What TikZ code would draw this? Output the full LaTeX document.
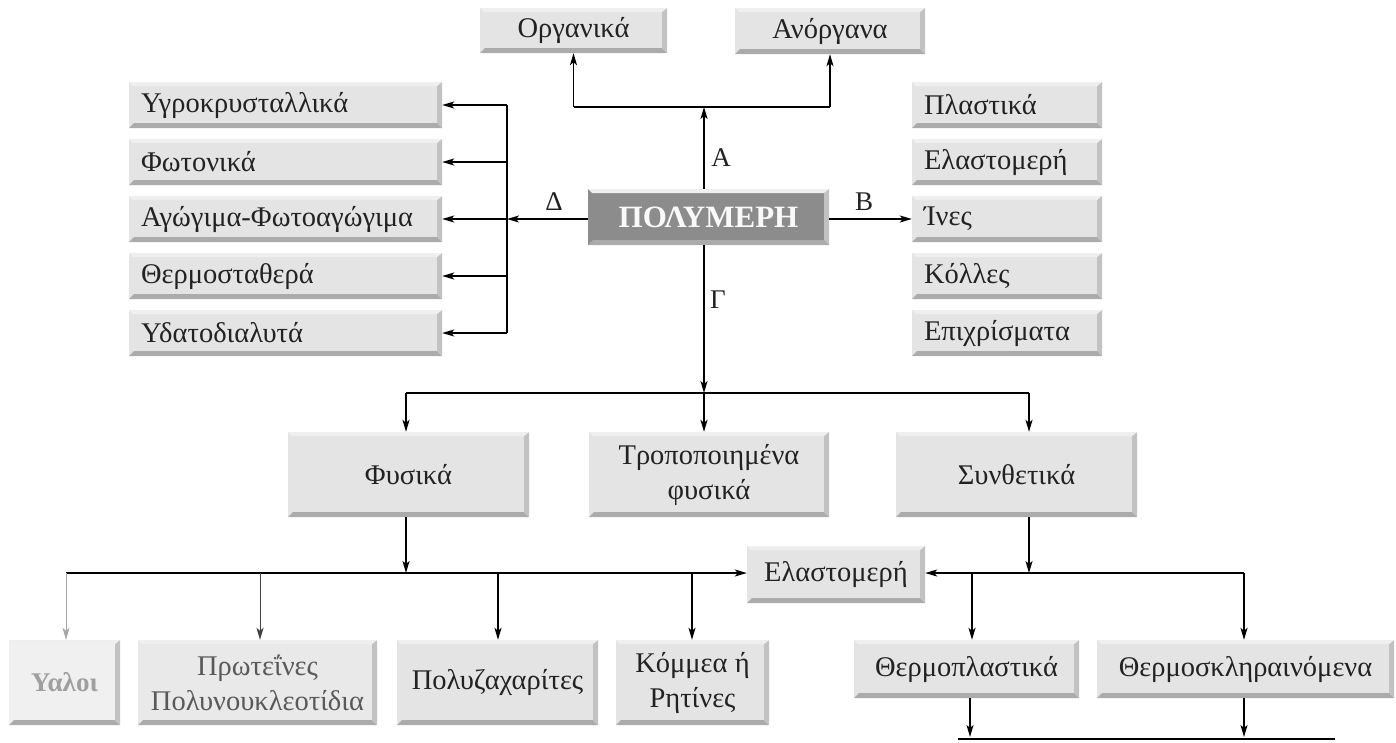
\documentclass[tikz,border=0pt]{standalone}
\usepackage{fontspec}
\setmainfont{Liberation Serif}
\usetikzlibrary{arrows.meta}
\definecolor{boxfill}{HTML}{E4E4E4}
\definecolor{bevdark}{HTML}{ABABAB}
\definecolor{bevmid}{HTML}{C2C2C2}
\definecolor{bevlight}{HTML}{EFEFEF}
\definecolor{txt}{HTML}{222222}
\definecolor{polfill}{HTML}{8C8C8C}
\tikzset{
  bevel/.style={path picture={
    \fill[bevdark] (path picture bounding box.south west) -- (path picture bounding box.south east)
      -- ([shift={(-5pt,5pt)}]path picture bounding box.south east) -- ([shift={(5pt,5pt)}]path picture bounding box.south west) -- cycle;
    \fill[bevmid] (path picture bounding box.south east) -- (path picture bounding box.north east)
      -- ([shift={(-5pt,-4pt)}]path picture bounding box.north east) -- ([shift={(-5pt,5pt)}]path picture bounding box.south east) -- cycle;
    \fill[bevlight] (path picture bounding box.north west) -- (path picture bounding box.north east)
      -- ([shift={(-5pt,-4pt)}]path picture bounding box.north east) -- ([shift={(4pt,-4pt)}]path picture bounding box.north west) -- cycle;
  }},
  bx/.style={bevel, fill=boxfill, inner sep=0pt, text=txt, align=center,
    font=\fontsize{28.5}{35}\selectfont},
  lbox/.style={bx, minimum height=46pt, text width=289pt, inner xsep=12pt, align=left},
  rbox/.style={bx, minimum height=46pt, text width=166pt, inner xsep=12pt, align=left},
  arr/.style={draw=black, line width=1.5pt, -{Stealth[length=12pt,width=7pt,inset=3pt]}},
  ln/.style={draw=black, line width=1.5pt},
  lab/.style={font=\fontsize{27}{32}\selectfont, text=txt, inner sep=0pt},
}
\begin{document}
\begin{tikzpicture}[x=1pt,y=-1pt]
\useasboundingbox[fill=white] (0,0) rectangle (1396,742);

% top boxes
\node[bx, minimum width=187pt, minimum height=45pt] (org) at (573.5,30.5) {Οργανικά};
\node[bx, minimum width=190pt, minimum height=46pt] (anorg) at (830,31) {Ανόργανα};

% left boxes
\node[lbox] (l1) at (285.5,105) {Υγροκρυσταλλικά};
\node[lbox] (l2) at (285.5,162) {Φωτονικά};
\node[lbox] (l3) at (285.5,219) {Αγώγιμα-Φωτοαγώγιμα};
\node[lbox] (l4) at (285.5,276) {Θερμοσταθερά};
\node[lbox] (l5) at (285.5,333) {Υδατοδιαλυτά};

% right boxes
\node[rbox] (r1) at (1007,105) {Πλαστικά};
\node[rbox] (r2) at (1007,162) {Ελαστομερή};
\node[rbox] (r3) at (1007,219) {Ίνες};
\node[rbox] (r4) at (1007,276) {Κόλλες};
\node[rbox] (r5) at (1007,333) {Επιχρίσματα};

% centre
\node[bevel, fill=polfill, minimum width=241pt, minimum height=56pt, inner sep=0pt,
  text=white!95!gray, font=\fontsize{31}{36}\selectfont\bfseries] (pol) at (708.5,217) {ΠΟΛΥΜΕΡΗ};

% middle row
\node[bx, minimum width=241pt, minimum height=85pt] (fys) at (408.5,474.5) {Φυσικά};
\node[bx, minimum width=240pt, minimum height=85pt] (trop) at (709,474.5) {Τροποποιημένα\\φυσικά};
\node[bx, minimum width=241pt, minimum height=85pt] (syn) at (1016.5,474.5) {Συνθετικά};

\node[bx, minimum width=178pt, minimum height=57pt] (ela) at (836,574.5) {Ελαστομερή};

% bottom row
\node[bx, fill=boxfill!55, minimum width=111pt, minimum height=85pt, text=gray!75,
  font=\fontsize{27}{33}\selectfont\bfseries] (yal) at (64.5,682.5) {Υαλοι};
\node[bx, fill=boxfill!80, minimum width=239pt, minimum height=85pt, text=txt!75] (prot) at (257.5,682.5) {Πρωτεΐνες\\Πολυνουκλεοτίδια};
\node[bx, minimum width=201pt, minimum height=85pt] (polz) at (497.5,682.5) {Πολυζαχαρίτες};
\node[bx, minimum width=153pt, minimum height=85pt] (kom) at (692.5,682.5) {Κόμμεα ή\\Ρητίνες};
\node[bx, minimum width=225pt, minimum height=58pt] (tpl) at (966.5,669) {Θερμοπλαστικά};
\node[bx, minimum width=297pt, minimum height=58pt] (tsk) at (1245.5,669) {Θερμοσκληραινόμενα};

% labels
\node[lab] (la) at (721,158) {Α};
\node[lab] (lb) at (864,202) {Β};
\node[lab] (lg) at (718,300) {Γ};
\node[lab] (ld) at (554,202) {Δ};

% junction coordinates
\coordinate (cx) at (704,217);
\coordinate (jA) at (704,107);
\coordinate (jD) at (507,219);
\coordinate (jG) at (704,393);
\coordinate (gF) at (406,393);
\coordinate (gS) at (1029,393);
\coordinate (hF) at (406,573);
\coordinate (hS) at (1029,573);
\coordinate (hL) at (66,573);
\coordinate (hP) at (260,573);
\coordinate (hZ) at (498,573);
\coordinate (hK) at (692,573);
\coordinate (hR) at (1244,573);
\coordinate (hT) at (972,573);
\coordinate (b1) at (970,737);
\coordinate (b2) at (1244,737);
\coordinate (bl) at (958,739);
\coordinate (br) at (1335,739);

% A
\draw[arr] (pol.north -| cx) -- (jA);
\draw[ln] (org.south |- jA) -- (anorg.south |- jA);
\draw[arr] (org.south |- jA) -- (org.south);
\draw[arr] (anorg.south |- jA) -- (anorg.south);

% Delta
\draw[arr] (pol.west |- jD) -- (jD);
\draw[ln] (l1.east -| jD) -- (l5.east -| jD);
\foreach \n in {l1,l2,l3,l4,l5} \draw[arr] (\n.east -| jD) -- (\n.east);

% B
\draw[arr] (pol.east |- r3.west) -- (r3.west);

% Gamma
\draw[arr] (pol.south -| cx) -- (jG);
\draw[ln] (gF) -- (gS);
\draw[arr] (gF) -- (gF |- fys.north);
\draw[arr] (jG) -- (jG |- trop.north);
\draw[arr] (gS) -- (gS |- syn.north);

% Physical
\draw[arr] (fys.south -| hF) -- (hF);
\draw[arr] (hL) -- (ela.west |- hL);
\draw[arr, draw=gray!70, line width=1pt] (hL) -- (hL |- yal.north);
\draw[arr, draw=black!75, line width=1pt] (hP) -- (hP |- prot.north);
\draw[arr] (hZ) -- (hZ |- polz.north);
\draw[arr] (hK) -- (hK |- kom.north);

% Synthetic
\draw[arr] (syn.south -| hS) -- (hS);
\draw[arr] (hR) -- (ela.east |- hR);
\draw[arr] (hT) -- (hT |- tpl.north);
\draw[arr] (hR) -- (hR |- tsk.north);

% bottom
\draw[arr] (tpl.south -| b1) -- (b1);
\draw[arr] (tsk.south -| b2) -- (b2);
\draw[ln, line width=2pt] (bl) -- (br);
\end{tikzpicture}
\end{document}
